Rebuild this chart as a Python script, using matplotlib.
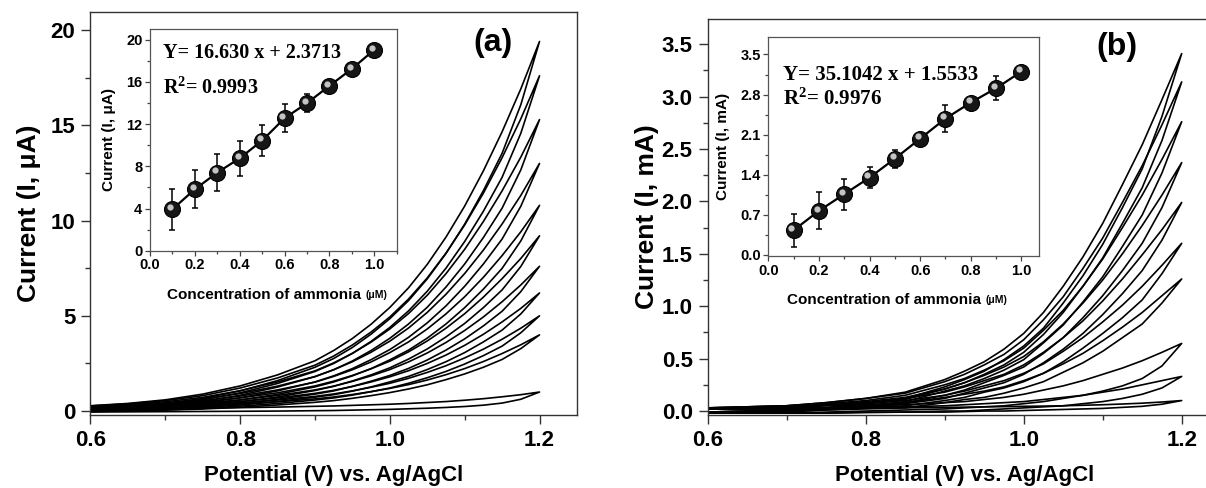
import numpy as np
import matplotlib
matplotlib.use("Agg")
import matplotlib.pyplot as plt
from matplotlib.ticker import MultipleLocator
from matplotlib.transforms import offset_copy

plt.rcParams['font.family'] = ['Liberation Sans', 'DejaVu Sans']
plt.rcParams['font.weight'] = 'bold'
plt.rcParams['axes.labelweight'] = 'bold'
plt.rcParams['mathtext.fontset'] = 'custom'
plt.rcParams['mathtext.rm'] = 'Liberation Serif:bold'
plt.rcParams['mathtext.it'] = 'Liberation Serif:bold'
plt.rcParams['mathtext.bf'] = 'Liberation Serif:bold'

# potential grid (V) shared by all sweeps
potential = [0.60, 0.65, 0.70, 0.75, 0.80, 0.85, 0.90, 0.925, 0.95, 0.975,
             1.00, 1.025, 1.05, 1.075, 1.10, 1.125, 1.15, 1.175, 1.20]

# (a) currents in uA, forward and reverse sweep
a_fwd = [
    [0.28, 0.40, 0.59, 0.89, 1.32, 1.90, 2.64, 3.18, 3.81, 4.56, 5.44, 6.47, 7.70, 9.13, 10.76, 12.61, 14.66, 16.91, 19.4],
    [0.27, 0.38, 0.55, 0.81, 1.21, 1.74, 2.41, 2.89, 3.47, 4.15, 4.94, 5.88, 6.99, 8.29, 9.77, 11.44, 13.30, 15.34, 17.6],
    [0.24, 0.34, 0.49, 0.72, 1.07, 1.53, 2.11, 2.53, 3.03, 3.62, 4.31, 5.12, 6.08, 7.21, 8.49, 9.95, 11.56, 13.33, 15.3],
    [0.22, 0.30, 0.43, 0.63, 0.92, 1.31, 1.81, 2.17, 2.59, 3.09, 3.67, 4.36, 5.18, 6.13, 7.22, 8.45, 9.82, 11.32, 13.0],
    [0.20, 0.27, 0.38, 0.54, 0.79, 1.11, 1.52, 1.82, 2.17, 2.58, 3.07, 3.63, 4.31, 5.10, 6.00, 7.02, 8.16, 9.41, 10.8],
    [0.18, 0.24, 0.34, 0.48, 0.69, 0.96, 1.32, 1.57, 1.87, 2.22, 2.62, 3.11, 3.68, 4.35, 5.11, 5.98, 6.95, 8.01, 9.2],
    [0.17, 0.22, 0.30, 0.41, 0.59, 0.82, 1.11, 1.31, 1.56, 1.85, 2.18, 2.58, 3.05, 3.60, 4.23, 4.94, 5.74, 6.62, 7.6],
    [0.15, 0.19, 0.26, 0.36, 0.50, 0.69, 0.93, 1.09, 1.29, 1.53, 1.80, 2.12, 2.50, 2.94, 3.45, 4.03, 4.68, 5.39, 6.2],
    [0.14, 0.17, 0.23, 0.31, 0.43, 0.58, 0.77, 0.90, 1.06, 1.25, 1.46, 1.72, 2.03, 2.38, 2.79, 3.25, 3.77, 4.35, 5.0],
    [0.13, 0.16, 0.21, 0.27, 0.37, 0.49, 0.64, 0.74, 0.87, 1.02, 1.19, 1.39, 1.63, 1.91, 2.23, 2.60, 3.02, 3.48, 4.0],
    [0.10, 0.11, 0.13, 0.15, 0.18, 0.21, 0.25, 0.27, 0.30, 0.33, 0.36, 0.40, 0.45, 0.50, 0.57, 0.65, 0.75, 0.86, 1.0],
]
a_rev = [
    [0.10, 0.22, 0.39, 0.66, 1.06, 1.60, 2.30, 2.76, 3.34, 4.04, 4.85, 5.80, 6.94, 8.27, 9.81, 11.57, 13.53, 16.08, 19.4],
    [0.10, 0.20, 0.35, 0.59, 0.96, 1.45, 2.08, 2.50, 3.03, 3.66, 4.39, 5.26, 6.29, 7.50, 8.90, 10.49, 12.27, 14.58, 17.6],
    [0.07, 0.16, 0.30, 0.51, 0.83, 1.26, 1.81, 2.17, 2.63, 3.18, 3.82, 4.57, 5.45, 6.51, 7.72, 9.11, 10.65, 12.66, 15.3],
    [0.05, 0.13, 0.25, 0.43, 0.70, 1.06, 1.53, 1.85, 2.23, 2.70, 3.23, 3.87, 4.63, 5.52, 6.55, 7.72, 9.03, 10.75, 13.0],
    [0.04, 0.10, 0.20, 0.35, 0.58, 0.88, 1.27, 1.53, 1.85, 2.23, 2.69, 3.20, 3.83, 4.57, 5.43, 6.40, 7.49, 8.93, 10.8],
    [0.02, 0.08, 0.17, 0.29, 0.49, 0.74, 1.08, 1.30, 1.58, 1.90, 2.27, 2.73, 3.26, 3.89, 4.60, 5.43, 6.36, 7.59, 9.2],
    [0.01, 0.06, 0.13, 0.23, 0.40, 0.62, 0.89, 1.06, 1.30, 1.57, 1.87, 2.24, 2.68, 3.20, 3.79, 4.47, 5.24, 6.27, 7.6],
    [-0.01, 0.03, 0.10, 0.19, 0.32, 0.50, 0.73, 0.86, 1.05, 1.27, 1.53, 1.82, 2.18, 2.59, 3.07, 3.63, 4.25, 5.10, 6.2],
    [-0.02, 0.01, 0.07, 0.14, 0.26, 0.40, 0.58, 0.69, 0.84, 1.02, 1.21, 1.46, 1.75, 2.08, 2.47, 2.91, 3.41, 4.11, 5.0],
    [-0.02, 0.01, 0.05, 0.11, 0.20, 0.32, 0.46, 0.55, 0.67, 0.81, 0.97, 1.16, 1.38, 1.65, 1.95, 2.30, 2.71, 3.28, 4.0],
    [-0.05, -0.04, -0.03, -0.02, -0.01, 0.00, 0.02, 0.03, 0.05, 0.07, 0.09, 0.12, 0.15, 0.19, 0.24, 0.31, 0.42, 0.62, 1.0],
]

# (b) currents in mA
b_fwd = [
    [0.03, 0.04, 0.05, 0.08, 0.12, 0.18, 0.30, 0.38, 0.47, 0.59, 0.74, 0.94, 1.19, 1.47, 1.79, 2.16, 2.54, 2.97, 3.41],
    [0.03, 0.04, 0.05, 0.08, 0.12, 0.17, 0.28, 0.35, 0.44, 0.54, 0.68, 0.87, 1.09, 1.36, 1.65, 1.99, 2.34, 2.73, 3.14],
    [0.03, 0.04, 0.05, 0.07, 0.10, 0.15, 0.25, 0.31, 0.39, 0.48, 0.60, 0.77, 0.96, 1.19, 1.45, 1.75, 2.06, 2.40, 2.76],
    [0.03, 0.03, 0.04, 0.06, 0.09, 0.13, 0.21, 0.27, 0.34, 0.42, 0.52, 0.66, 0.83, 1.03, 1.25, 1.50, 1.77, 2.06, 2.37],
    [0.03, 0.03, 0.04, 0.06, 0.08, 0.12, 0.18, 0.23, 0.29, 0.35, 0.44, 0.56, 0.70, 0.86, 1.05, 1.26, 1.49, 1.73, 1.99],
    [0.03, 0.03, 0.04, 0.05, 0.07, 0.10, 0.15, 0.19, 0.24, 0.29, 0.36, 0.45, 0.57, 0.70, 0.85, 1.01, 1.19, 1.39, 1.60],
    [0.02, 0.03, 0.03, 0.05, 0.06, 0.08, 0.13, 0.16, 0.19, 0.23, 0.29, 0.36, 0.45, 0.55, 0.67, 0.80, 0.94, 1.10, 1.26],
    [0.02, 0.02, 0.03, 0.03, 0.05, 0.06, 0.08, 0.09, 0.11, 0.13, 0.16, 0.20, 0.24, 0.29, 0.35, 0.41, 0.48, 0.56, 0.645],
    [0.02, 0.02, 0.02, 0.03, 0.04, 0.04, 0.05, 0.06, 0.07, 0.08, 0.09, 0.11, 0.13, 0.15, 0.18, 0.21, 0.25, 0.29, 0.33],
    [0.02, 0.02, 0.02, 0.025, 0.03, 0.03, 0.035, 0.037, 0.04, 0.042, 0.045, 0.047, 0.05, 0.055, 0.06, 0.067, 0.075, 0.086, 0.10],
]
b_rev = [
    [-0.01, 0.00, 0.01, 0.03, 0.07, 0.12, 0.23, 0.30, 0.38, 0.49, 0.62, 0.79, 1.03, 1.29, 1.59, 1.94, 2.31, 2.81, 3.41],
    [-0.01, 0.00, 0.01, 0.03, 0.07, 0.11, 0.21, 0.27, 0.35, 0.44, 0.56, 0.73, 0.94, 1.19, 1.46, 1.79, 2.13, 2.58, 3.14],
    [-0.01, 0.00, 0.01, 0.02, 0.05, 0.09, 0.19, 0.24, 0.31, 0.39, 0.49, 0.65, 0.82, 1.04, 1.28, 1.57, 1.87, 2.27, 2.76],
    [-0.01, -0.01, 0.00, 0.02, 0.04, 0.08, 0.15, 0.20, 0.27, 0.34, 0.42, 0.55, 0.70, 0.89, 1.10, 1.34, 1.60, 1.94, 2.37],
    [-0.01, -0.01, 0.00, 0.02, 0.03, 0.07, 0.12, 0.17, 0.22, 0.27, 0.35, 0.46, 0.59, 0.74, 0.92, 1.12, 1.34, 1.63, 1.99],
    [-0.01, -0.01, 0.00, 0.01, 0.03, 0.05, 0.10, 0.13, 0.18, 0.22, 0.28, 0.36, 0.47, 0.60, 0.74, 0.89, 1.06, 1.31, 1.60],
    [-0.02, -0.01, -0.01, 0.01, 0.02, 0.03, 0.08, 0.11, 0.13, 0.17, 0.22, 0.28, 0.37, 0.46, 0.57, 0.70, 0.83, 1.03, 1.26],
    [-0.02, -0.02, -0.02, -0.01, 0.00, 0.01, 0.02, 0.03, 0.04, 0.05, 0.07, 0.09, 0.12, 0.15, 0.19, 0.24, 0.31, 0.43, 0.645],
    [-0.02, -0.02, -0.02, -0.02, -0.01, -0.01, 0.00, 0.00, 0.01, 0.02, 0.03, 0.04, 0.05, 0.07, 0.09, 0.12, 0.16, 0.22, 0.33],
    [-0.02, -0.02, -0.02, -0.02, -0.015, -0.01, -0.01, -0.005, 0.0, 0.0, 0.005, 0.01, 0.015, 0.02, 0.025, 0.035, 0.045, 0.065, 0.10],
]

# calibration insets
conc = [0.1, 0.2, 0.3, 0.4, 0.5, 0.6, 0.7, 0.8, 0.9, 1.0]
cur_a = [3.93, 5.83, 7.41, 8.77, 10.45, 12.57, 14.0, 15.64, 17.25, 19.06]
err_a = [1.93, 1.80, 1.72, 1.65, 1.46, 1.30, 0.85, 0.30, 0.30, 0.20]
cur_b = [0.43, 0.77, 1.06, 1.35, 1.68, 2.03, 2.38, 2.66, 2.91, 3.20]
err_b = [0.29, 0.32, 0.27, 0.19, 0.16, 0.08, 0.23, 0.08, 0.21, 0.05]
eq_a = ["Y= 16.630 x + 2.3713", "R$^{2}$= 0.9993"]
eq_b = ["Y= 35.1042 x + 1.5533", "R$^{2}$= 0.9976"]

fig = plt.figure(figsize=(12.06, 4.88), dpi=100)
ax_a = fig.add_axes([0.0750, 0.1502, 0.4034, 0.8246])
ax_b = fig.add_axes([0.5868, 0.1502, 0.4258, 0.8109])


def draw_cv(ax, fwd, rev):
    E = np.array(potential)
    for f, r in zip(fwd, rev):
        x = np.concatenate([E, E[::-1], E[:1]])
        y = np.concatenate([f, r[::-1], f[:1]])
        ax.plot(x, y, color='k', lw=1.2, solid_joinstyle='round')


def style_main(ax, ymaj, ymin):
    for s in ax.spines.values():
        s.set_linewidth(1.0)
        s.set_color('#333333')
    ax.tick_params(which='both', direction='out', top=False, right=False,
                   labelsize=16, width=1.0, color='#333333')
    ax.tick_params(which='major', length=6.3, pad=4.5)
    ax.tick_params(which='minor', length=3.6)
    ax.xaxis.set_major_locator(MultipleLocator(0.2))
    ax.xaxis.set_minor_locator(MultipleLocator(0.1))
    ax.yaxis.set_major_locator(MultipleLocator(ymaj))
    ax.yaxis.set_minor_locator(MultipleLocator(ymin))
    ax.set_xlim(0.6, 1.25)
    ax.set_xlabel("Potential (V) vs. Ag/AgCl", fontsize=16, labelpad=10)


draw_cv(ax_a, a_fwd, a_rev)
style_main(ax_a, 5, 2.5)
ax_a.set_ylim(-0.19, 20.93)
ax_a.set_ylabel("Current (I, μA)", fontsize=19, labelpad=7)

draw_cv(ax_b, b_fwd, b_rev)
style_main(ax_b, 0.5, 0.25)
ax_b.set_ylim(-0.035, 3.74)
ax_b.set_ylabel("Current (I, mA)", fontsize=19, labelpad=2)

fig.text(0.4088, 0.912, "(a)", fontsize=23, ha='center', va='center')
fig.text(0.9262, 0.904, "(b)", fontsize=23, ha='center', va='center')


def draw_inset(rect, cur, err, eq, unit, ylim, ymaj, ymin, xmax, eqsize, eqy):
    ins = fig.add_axes(rect)
    ins.errorbar(conc, cur, yerr=err, fmt='none', ecolor='k', elinewidth=1.1,
                 capsize=2.5, capthick=1.1, zorder=2)
    ins.plot(conc, cur, '-', color='k', lw=1.6, zorder=3)
    ins.plot(conc, cur, 'o', ms=11.5, mfc='#161616', mec='k', mew=0.8, zorder=4)
    hl = offset_copy(ins.transData, fig=fig, x=-2.2, y=2.2, units='dots')
    ins.plot(conc, cur, 'o', ms=4.5, mfc='#d8d8d8', mec='none', alpha=0.9,
             transform=hl, zorder=5)
    for s in ins.spines.values():
        s.set_linewidth(0.9)
        s.set_color('#555555')
    ins.tick_params(which='both', direction='out', top=False, right=False,
                    labelsize=10.5, width=0.9, color='#444444')
    ins.tick_params(which='major', length=3.5, pad=2)
    ins.tick_params(which='minor', length=2)
    ins.xaxis.set_major_locator(MultipleLocator(0.2))
    ins.xaxis.set_minor_locator(MultipleLocator(0.1))
    ins.yaxis.set_major_locator(MultipleLocator(ymaj))
    ins.yaxis.set_minor_locator(MultipleLocator(ymin))
    ins.set_xlim(0, xmax)
    ins.set_ylim(*ylim)
    ins.set_ylabel("Current (I, %s)" % unit, fontsize=11, labelpad=7)
    lab = ins.text(0.07, -0.2, "Concentration of ammonia", fontsize=11,
                   transform=ins.transAxes, ha='left', va='center')
    ins.annotate("(μM)", xy=(1, 0.5), xycoords=lab, xytext=(3, 0),
                 textcoords='offset points', va='center', fontsize=7.5)
    ins.text(0.053, eqy[0], eq[0], fontsize=eqsize, family='Liberation Serif',
             transform=ins.transAxes, ha='left', va='center')
    ins.text(0.053, eqy[1], eq[1], fontsize=eqsize, family='Liberation Serif',
             transform=ins.transAxes, ha='left', va='center')
    return ins


draw_inset([0.1244, 0.4863, 0.2046, 0.4537], cur_a, err_a, eq_a, "μA",
           (0, 21.0), 4, 2, 1.1, 14.5, (0.893, 0.735))
draw_inset([0.6371, 0.4754, 0.2245, 0.4482], cur_b, err_b, eq_b, "mA",
           (-0.02, 3.8), 0.7, 0.35, 1.07, 15, (0.828, 0.718))

fig.savefig("out.png", dpi=100)
